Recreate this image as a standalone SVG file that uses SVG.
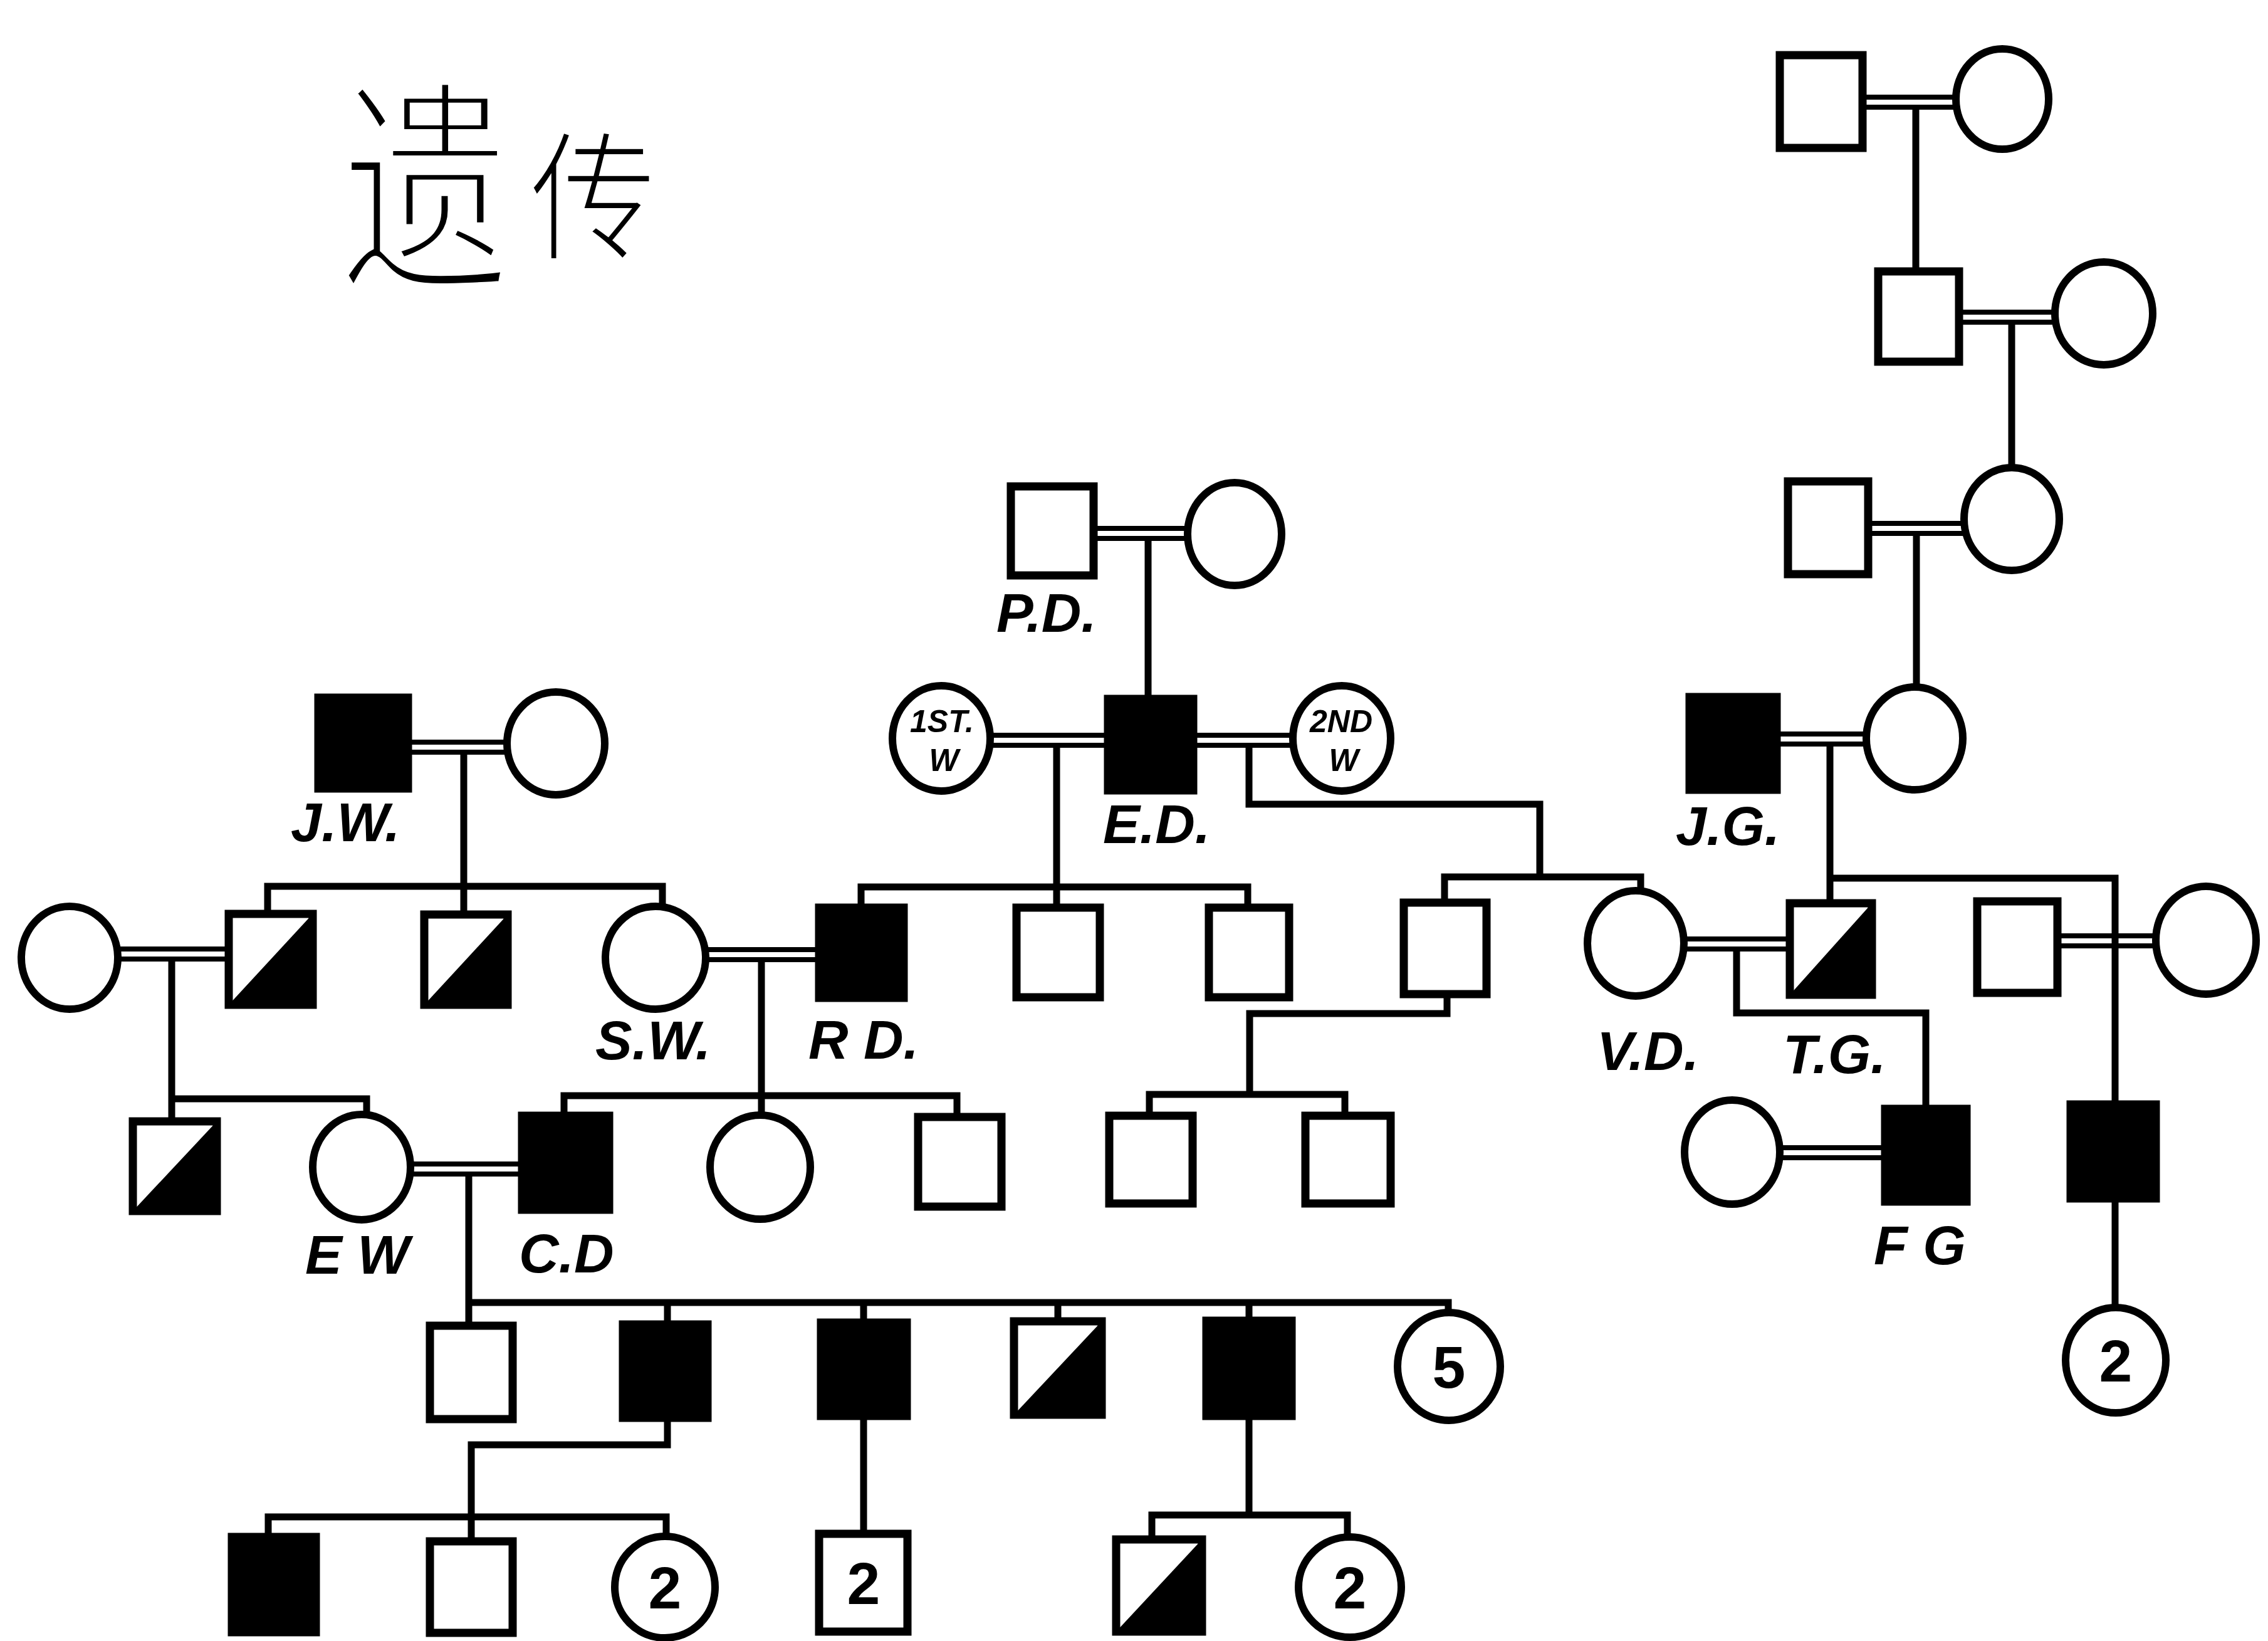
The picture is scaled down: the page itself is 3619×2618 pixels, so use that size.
<svg xmlns="http://www.w3.org/2000/svg" width="3619" height="2618" viewBox="0 0 3619 2618">
<style>
.ln{stroke:#000;stroke-width:11;fill:none;stroke-linecap:square;stroke-linejoin:miter}
.mr{stroke:#000;stroke-width:8;fill:none}
.sq{fill:#fff;stroke:#000;stroke-width:13}
.sqf{fill:#000;stroke:#000;stroke-width:13}
.ci{fill:#fff;stroke:#000;stroke-width:12}
.lbl{font-family:"Liberation Sans",Arial,sans-serif;font-weight:bold;font-style:italic;font-size:88px;fill:#000}
.num{font-family:"Liberation Sans",Arial,sans-serif;font-weight:bold;font-size:95px;text-anchor:middle;fill:#000}
.inw{font-family:"Liberation Sans",Arial,sans-serif;font-weight:bold;font-style:italic;font-size:50px;text-anchor:middle;fill:#000}
.cjk{font-family:"Noto Sans CJK SC","Noto Sans CJK JP",sans-serif;text-anchor:middle;fill:#000;stroke:#fff;paint-order:normal}
</style>
<rect width="3619" height="2618" fill="#fff"/>

<g id="title">
<text class="cjk" font-size="270" stroke-width="10" transform="translate(679,0) scale(1,1.35)" x="0" y="322">遗</text>
<text class="cjk" font-size="205" stroke-width="7" transform="translate(946,0) scale(1,1.1)" x="0" y="362">传</text>
</g>

<g id="connectors">
<!-- marriage double lines -->
<path class="mr" d="M2972 155H3121M2972 171H3121"/>
<path class="mr" d="M3126 498H3279M3126 514H3279"/>
<path class="mr" d="M2981 835H3134M2981 851H3134"/>
<path class="mr" d="M651 1184H809M651 1200H809"/>
<path class="mr" d="M1745 843H1895M1745 859H1895"/>
<path class="mr" d="M1580 1173H1768M1580 1189H1768"/>
<path class="mr" d="M1904 1173H2063M1904 1189H2063"/>
<path class="mr" d="M2835 1171H2978M2835 1187H2978"/>
<path class="mr" d="M188 1514H365M188 1530H365"/>
<path class="mr" d="M1126 1515H1307M1126 1531H1307"/>
<path class="mr" d="M2687 1498H2856M2687 1514H2856"/>
<path class="mr" d="M3283 1493H3440M3283 1509H3440"/>
<path class="mr" d="M655 1857H833M655 1873H833"/>
<path class="mr" d="M2840 1831H3008M2840 1847H3008"/>
<!-- descent lines -->
<path class="ln" d="M3057 175V433"/>
<path class="ln" d="M3210 518V746"/>
<path class="ln" d="M3058 855V1097"/>
<path class="ln" d="M740 1204V1459M427 1458V1414H1057V1448"/>
<path class="ln" d="M1832 863V1115"/>
<path class="ln" d="M1686 1193V1448M1374 1447V1415H1991V1448"/>
<path class="ln" d="M1993 1193V1283H2457V1399M2305 1440V1399H2618V1421"/>
<path class="ln" d="M2920 1191V1441M2920 1401H3375V1762"/>
<path class="ln" d="M274 1534V1753H585V1780M274 1753V1789"/>
<path class="ln" d="M1215 1535V1780M900 1780V1748H1527V1782"/>
<path class="ln" d="M2309 1586V1617H1994V1746M1834 1780V1746H2146V1780"/>
<path class="ln" d="M2771 1518V1616H3073V1769"/>
<path class="ln" d="M748 1877V2115M748 2078H2311V2094M1065 2078V2113M1378 2078V2110M1688 2078V2108M1993 2078V2107"/>
<path class="ln" d="M3375 1912V2086"/>
<path class="ln" d="M1065 2262V2305H752V2459M428 2452V2420H1063V2451"/>
<path class="ln" d="M1378 2259V2447"/>
<path class="ln" d="M1993 2259V2417M1838 2456V2417H2150V2452"/>
</g>

<!-- generation A/B/C (top right) -->
<g id="n-a1"><rect class="sq" x="2840" y="88" width="132" height="148"/></g>
<g id="n-a2"><ellipse class="ci" cx="3195" cy="158" rx="74" ry="80"/></g>
<g id="n-b1"><rect class="sq" x="2997" y="433" width="129" height="144"/></g>
<g id="n-b2"><ellipse class="ci" cx="3357" cy="500" rx="78" ry="82"/></g>
<g id="n-c1"><rect class="sq" x="2853" y="768" width="128" height="148"/></g>
<g id="n-c2"><ellipse class="ci" cx="3210" cy="828" rx="76" ry="82"/></g>

<!-- P.D. -->
<g id="n-pd"><rect class="sq" x="1613" y="776" width="132" height="142"/><text class="lbl" x="1590" y="1008">P.D.</text></g>
<g id="n-pdw"><ellipse class="ci" cx="1970" cy="852" rx="75" ry="82"/></g>

<!-- generation D -->
<g id="n-jw"><rect class="sqf" x="508" y="1113" width="143" height="145"/><text class="lbl" x="464" y="1342">J.W.</text></g>
<g id="n-jww"><ellipse class="ci" cx="887" cy="1186" rx="78" ry="82"/></g>
<g id="n-1stw"><ellipse class="ci" cx="1502" cy="1178" rx="78" ry="84"/><text class="inw" x="1503" y="1168">1ST.</text><text class="inw" x="1506" y="1230">W</text></g>
<g id="n-ed"><rect class="sqf" x="1768" y="1115" width="136" height="146"/><text class="lbl" x="1760" y="1345">E.D.</text></g>
<g id="n-2ndw"><ellipse class="ci" cx="2141" cy="1178" rx="78" ry="84"/><text class="inw" x="2140" y="1168">2ND</text><text class="inw" x="2144" y="1230">W</text></g>
<g id="n-jg"><rect class="sqf" x="2696" y="1112" width="139" height="148"/><text class="lbl" x="2674" y="1348">J.G.</text></g>
<g id="n-jgw"><ellipse class="ci" cx="3055" cy="1178" rx="77" ry="82"/></g>

<!-- generation E -->
<g id="n-e1"><ellipse class="ci" cx="111" cy="1528" rx="77" ry="82"/></g>
<g id="n-e2"><rect class="sq" x="365" y="1458" width="134" height="145"/><polygon points="365,1603 499,1458 499,1603"/></g>
<g id="n-e3"><rect class="sq" x="677" y="1459" width="133" height="144"/><polygon points="677,1603 810,1459 810,1603"/></g>
<g id="n-sw"><ellipse class="ci" cx="1046" cy="1528" rx="80" ry="82"/><text class="lbl" x="950" y="1690">S.W.</text></g>
<g id="n-rd"><rect class="sqf" x="1307" y="1448" width="135" height="144"/><text class="lbl" x="1290" y="1689">R D.</text></g>
<g id="n-e6"><rect class="sq" x="1622" y="1448" width="133" height="143"/></g>
<g id="n-e7"><rect class="sq" x="1929" y="1448" width="128" height="143"/></g>
<g id="n-e8"><rect class="sq" x="2240" y="1440" width="132" height="146"/></g>
<g id="n-vd"><ellipse class="ci" cx="2610" cy="1505" rx="77" ry="84"/><text class="lbl" x="2548" y="1707">V.D.</text></g>
<g id="n-tg"><rect class="sq" x="2856" y="1441" width="131" height="146"/><polygon points="2856,1587 2987,1441 2987,1587"/><text class="lbl" x="2845" y="1712">T.G.</text></g>
<g id="n-e11"><rect class="sq" x="3155" y="1438" width="128" height="146"/></g>
<g id="n-e12"><ellipse class="ci" cx="3520" cy="1500" rx="80" ry="86"/></g>

<!-- generation F -->
<g id="n-f1"><rect class="sq" x="212" y="1789" width="134" height="143"/><polygon points="212,1932 346,1789 346,1932"/></g>
<g id="n-ew"><ellipse class="ci" cx="577" cy="1862" rx="78" ry="84"/><text class="lbl" x="487" y="2032">E W</text></g>
<g id="n-cd"><rect class="sqf" x="833" y="1780" width="139" height="150"/><text class="lbl" x="828" y="2030">C.D</text></g>
<g id="n-f4"><ellipse class="ci" cx="1213" cy="1862" rx="80" ry="83"/></g>
<g id="n-f5"><rect class="sq" x="1465" y="1782" width="133" height="143"/></g>
<g id="n-f6"><rect class="sq" x="1770" y="1780" width="133" height="140"/></g>
<g id="n-f7"><rect class="sq" x="2083" y="1780" width="136" height="140"/></g>
<g id="n-fgw"><ellipse class="ci" cx="2764" cy="1838" rx="76" ry="83"/></g>
<g id="n-fg"><rect class="sqf" x="3008" y="1769" width="130" height="148"/><text class="lbl" x="2990" y="2017">F G</text></g>
<g id="n-f10"><rect class="sqf" x="3304" y="1762" width="136" height="150"/></g>

<!-- generation G -->
<g id="n-g1"><rect class="sq" x="686" y="2115" width="132" height="149"/></g>
<g id="n-g2"><rect class="sqf" x="994" y="2113" width="135" height="149"/></g>
<g id="n-g3"><rect class="sqf" x="1310" y="2110" width="137" height="149"/></g>
<g id="n-g4"><rect class="sq" x="1618" y="2108" width="140" height="149"/><polygon points="1618,2257 1758,2108 1758,2257"/></g>
<g id="n-g5"><rect class="sqf" x="1925" y="2107" width="136" height="152"/></g>
<g id="n-g6"><ellipse class="ci" cx="2312" cy="2180" rx="82" ry="86"/><text class="num" x="2312" y="2214">5</text></g>
<g id="n-g7"><ellipse class="ci" cx="3376" cy="2170" rx="80" ry="84"/><text class="num" x="3376" y="2204">2</text></g>

<!-- generation H -->
<g id="n-h1"><rect class="sqf" x="370" y="2452" width="134" height="152"/></g>
<g id="n-h2"><rect class="sq" x="686" y="2459" width="132" height="146"/></g>
<g id="n-h3"><ellipse class="ci" cx="1061" cy="2532" rx="80" ry="81"/><text class="num" x="1061" y="2566">2</text></g>
<g id="n-h4"><rect class="sq" x="1307" y="2447" width="141" height="156"/><text class="num" x="1378" y="2559">2</text></g>
<g id="n-h5"><rect class="sq" x="1781" y="2456" width="137" height="147"/><polygon points="1781,2603 1918,2456 1918,2603"/></g>
<g id="n-h6"><ellipse class="ci" cx="2154" cy="2532" rx="82" ry="80"/><text class="num" x="2154" y="2566">2</text></g>
</svg>
